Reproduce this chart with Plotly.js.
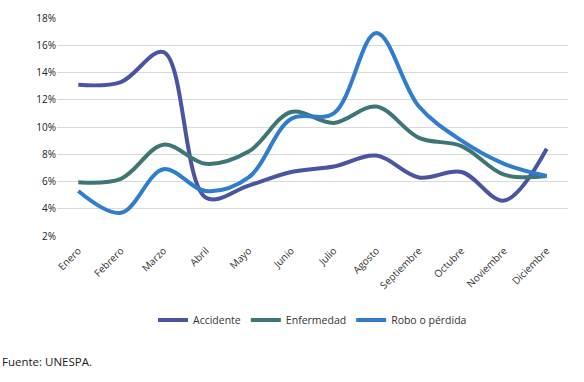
<!DOCTYPE html>
<html><head><meta charset="utf-8">
<script src="https://cdn.plot.ly/plotly-3.0.1.min.js"></script>
<style>body{margin:0;background:#fff}#c{width:584px;height:382px}</style>
</head><body><div id="c"></div>
<script>
var months = ["Enero","Febrero","Marzo","Abril","Mayo","Junio","Julio","Agosto","Septiembre","Octubre","Noviembre","Diciembre"];
var accidente  = [13.1, 13.3, 15.5, 4.8, 5.7, 6.7, 7.1, 7.9, 6.3, 6.7, 4.6, 8.4];
var enfermedad = [5.95, 6.2, 8.7, 7.3, 8.2, 11.1, 10.3, 11.5, 9.2, 8.6, 6.5, 6.4];
var robo       = [5.3, 3.7, 6.9, 5.3, 6.3, 10.6, 11.0, 16.9, 11.5, 9.0, 7.3, 6.4];
var yTicks = [2,4,6,8,10,12,14,16,18];

function tr(name, y, color){
  return {x: months, y: y.map(function(v){return v/100;}), name: name, type:'scatter', mode:'lines',
    line:{shape:'spline', smoothing:1, width:4, color:color}};
}
var data = [
  tr('Accidente', accidente, '#4A55A2'),
  tr('Enfermedad', enfermedad, '#3E7676'),
  tr('Robo o pérdida', robo, '#2F7DCC')
];
var layout = {
  width:584, height:382,
  margin:{l:57, r:16, t:18, b:146},
  paper_bgcolor:'#fff', plot_bgcolor:'#fff',
  font:{family:'"Open Sans", sans-serif', size:10, color:'#333'},
  xaxis:{type:'category', tickangle:-45, showgrid:false, zeroline:false, showline:false, ticks:'outside', ticklen:4, tickcolor:'rgba(0,0,0,0)',
    tickfont:{size:10, color:'#333'}, range:[-0.5, 11.5]},
  yaxis:{range:[0.02,0.18], tickvals:yTicks.map(function(v){return v/100;}),
    ticktext:yTicks.map(function(v){return v+'%';}), showgrid:true, gridcolor:'#d9d9d9', gridwidth:1,
    zeroline:false, showline:false, ticks:'', tickfont:{size:10, color:'#222'}},
  showlegend:true,
  legend:{orientation:'h', x:0.5, xanchor:'center', y:-0.385, yanchor:'middle', font:{size:10.5, color:'#333'},
    itemwidth:30, tracegroupgap:0},
  annotations:[{text:'Fuente: UNESPA.', xref:'paper', yref:'paper', x:-57/511, xanchor:'left',
    y:-(362-236)/218, yanchor:'middle', showarrow:false, font:{size:11.5, color:'#222'}}]
};
Plotly.newPlot('c', data, layout, {displayModeBar:false, staticPlot:true});
</script></body></html>
